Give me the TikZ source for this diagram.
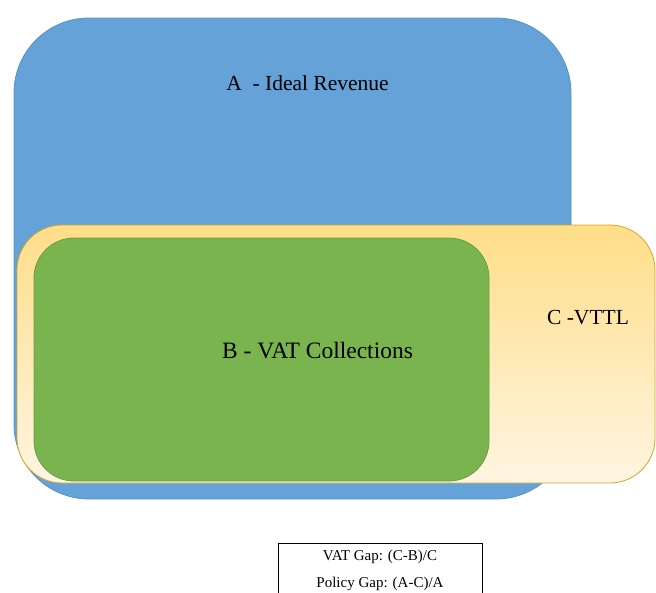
\documentclass[tikz,border=0pt]{standalone}
\usepackage{fontspec}
\setmainfont{Liberation Serif}
\usepackage{tikz}
\definecolor{idealblue}{HTML}{64A2D8}
\definecolor{idealedge}{HTML}{5B92C8}
\definecolor{vttltop}{HTML}{FFDE88}
\definecolor{vttlbot}{HTML}{FFF5E2}
\definecolor{vttledge}{HTML}{D6A526}
\definecolor{collgreen}{HTML}{7AB44F}
\definecolor{colledge}{HTML}{6B9E45}

\begin{document}
\begin{tikzpicture}[x = 1pt, y = -1pt,
    area/.style = {rectangle, draw, line width=0.8pt, inner sep=0pt},
    areatext/.style = {font=\fontsize{21.5}{25}\selectfont, text=black}]
    \useasboundingbox (0,0) rectangle (656,592);

    % A - ideal revenue
    \node (ideal) at (292.5,258.5) [area, fill=idealblue, draw=idealedge,
      rounded corners=75pt, minimum width=557pt, minimum height=481pt] {};
    % C - VTTL, sfumato dall'alto in basso
    \node (vttl) at (336,354) [area, top color=vttltop, bottom color=vttlbot,
      draw=vttledge, rounded corners=45pt, minimum width=638pt, minimum height=258pt] {};
    % B - riscossioni IVA
    \node (collections) at (261.5,359.5) [area, fill=collgreen, draw=colledge,
      rounded corners=40pt, minimum width=455pt, minimum height=243pt] {};

    % etichette
    \node (idealtext) at (307.5,83) [areatext] {A\ \ - Ideal Revenue};
    \node (vttltext) at (588,318) [areatext] {C -VTTL};
    \node (colltext) at (317.5,351) [areatext, font=\fontsize{23.5}{27}\selectfont] {B - VAT Collections};

    % legenda
    \node (gaps) at (380,543) [anchor=north, draw, line width=0.6pt,
      minimum width=204pt, inner ysep=7pt, align=center,
      font=\fontsize{15}{27}\selectfont] {VAT Gap: (C-B)/C\\Policy Gap: (A-C)/A\\[-10pt]};
\end{tikzpicture}
\end{document}
